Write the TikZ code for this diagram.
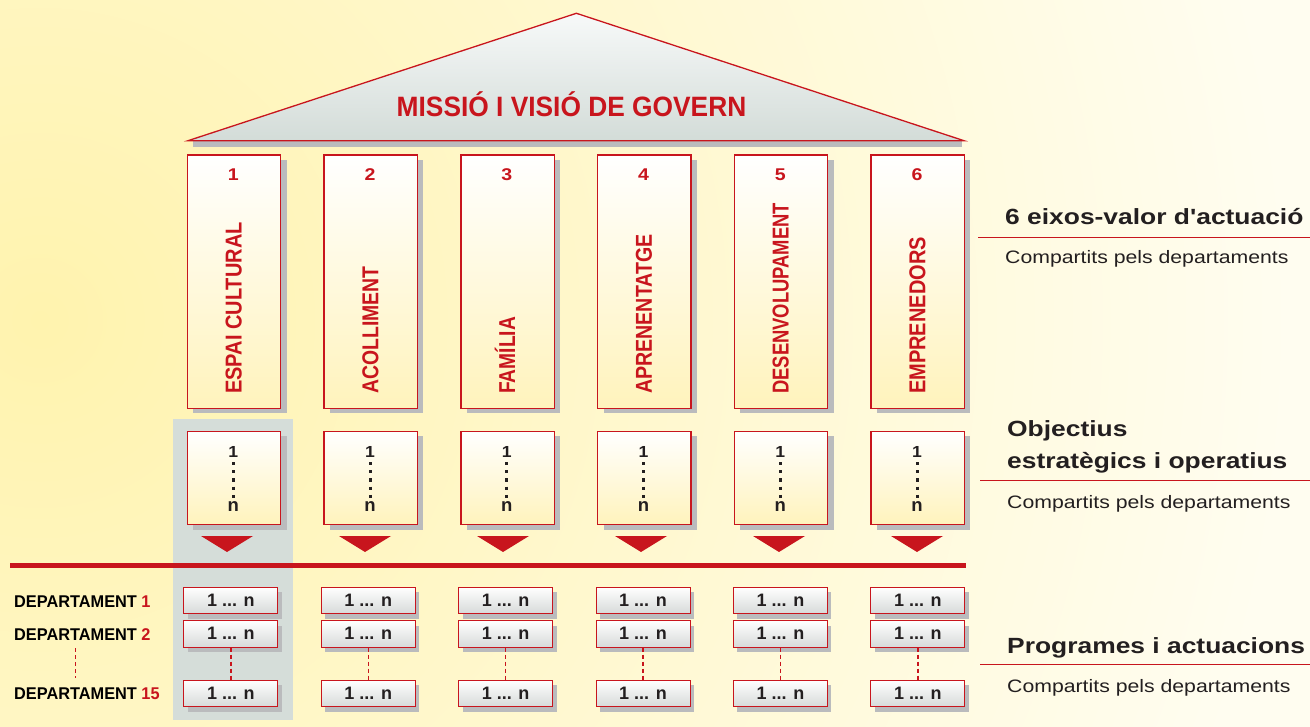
\documentclass[tikz,border=0pt]{standalone}
\usepackage{fontspec}
\setmainfont{Liberation Sans}
\usepackage{graphicx}
\usetikzlibrary{shadows}
\definecolor{rd}{HTML}{C8151D}
\definecolor{bgcream}{HTML}{FFFDF0}
\definecolor{bgyel}{HTML}{FFF3AE}
\definecolor{pilbot}{HTML}{FFF3BC}
\definecolor{shd}{HTML}{BABBBD}
\definecolor{hl}{HTML}{D5DDD9}
\definecolor{rooftop}{HTML}{F7F9F9}
\definecolor{roofbot}{HTML}{D3DCD8}
\definecolor{dbot}{HTML}{D7DAD9}
\definecolor{txt}{HTML}{231F20}
\newcommand{\fs}[1]{\fontsize{#1}{#1}\selectfont}
\newcommand{\hs}[2]{\scalebox{#1}[1]{#2}}
\tikzset{
  pillar/.style={draw=rd, line width=1.4pt, top color=white, bottom color=pilbot,
    minimum width=93.3pt, minimum height=253.3pt, inner sep=0pt, anchor=north west,
    drop shadow={shadow xshift=6pt, shadow yshift=-5pt, fill=shd, opacity=1}},
  objbox/.style={draw=rd, line width=1.4pt, top color=white, bottom color=pilbot,
    minimum width=93.3pt, minimum height=93.3pt, inner sep=0pt, anchor=north west,
    drop shadow={shadow xshift=6pt, shadow yshift=-5pt, fill=shd, opacity=1}},
  depbox/.style={draw=rd, line width=1.1pt, top color=white, bottom color=dbot,
    minimum width=94pt, minimum height=26.5pt, inner sep=0pt, anchor=north west,
    font=\fs{18}\bfseries, text=txt,
    drop shadow={shadow xshift=4pt, shadow yshift=-5pt, fill=shd, opacity=1}},
  numst/.style={font=\fs{17}\bfseries, text=rd, anchor=base, inner sep=0pt},
  vlab/.style={font=\fs{20}\bfseries, text=rd, rotate=90, anchor=base west, inner sep=0pt},
  onum/.style={font=\fs{16}\bfseries, text=txt, anchor=base, inner sep=0pt},
  onumn/.style={font=\fs{18.5}\bfseries, text=txt, anchor=base, inner sep=0pt},
  deplab/.style={font=\fs{17}\bfseries, text=black, anchor=base west, inner sep=0pt},
  rhead/.style={font=\fs{22}\bfseries, text=txt, anchor=base west, inner sep=0pt},
  rsub/.style={font=\fs{18}, text=txt, anchor=base west, inner sep=0pt},
  rline/.style={draw=rd, line width=1pt},
  reddash/.style={draw=rd, line width=1.5pt, dash pattern=on 4pt off 3pt},
}
\begin{document}
\begin{tikzpicture}[x=1pt,y=-1pt]
\useasboundingbox (0,0) rectangle (1310,727);
% background
\fill[bgcream] (0,0) rectangle (1310,727);
\begin{scope}
  \clip (0,0) rectangle (1310,727);
  \shade[inner color=bgyel, outer color=bgcream] (40,320) circle (1250pt);
\end{scope}
% highlight column
\fill[hl] (173,419) rectangle (293,720);
% roof
\fill[shd] (193,141) -- (962,141) -- (962,147) -- (193,147) -- cycle;
\draw[rd, line width=1.3pt, top color=rooftop, bottom color=roofbot, line join=miter]
  (188,140.7) -- (576.4,13.3) -- (964,140.7) -- cycle;
\node[font=\fs{28}\bfseries, text=rd, anchor=base, inner sep=0pt] (title) at (571.5,117)
  {\hs{0.94}{MISSIÓ I VISIÓ DE GOVERN}};
% pillars and objectives
\foreach \i/\lab/\sq in {1/ESPAI CULTURAL/1, 2/ACOLLIMENT/0.97, 3/FAMÍLIA/0.96,
  4/APRENENTATGE/0.98, 5/DESENVOLUPAMENT/0.92, 6/EMPRENEDORS/1}{
  \pgfmathsetmacro\xl{186.7+136.75*(\i-1)}
  \pgfmathsetmacro\xc{\xl+46.65}
  \pgfmathsetmacro\xt{227+138*(\i-1)}
  \node[pillar] (p\i) at (\xl,154.5) {};
  \node[numst] (n\i) at (\xc,181) {\hs{1.15}{\i}};
  \node[vlab] (l\i) at (\xc+8.2,394) {\scalebox{\sq}[1.15]{\lab}};
  \node[objbox] (o\i) at (\xl,430.7) {};
  \node[onum] (oa\i) at (\xc,457.7) {\hs{1.1}{1}};
  \node[onumn] (ob\i) at (\xc,511) {n};
  \draw[txt, line width=3.2pt, dash pattern=on 3.2pt off 5pt] (\xc,462) -- (\xc,499);
  \fill[rd] (\xt-26,536) -- (\xt+26,536) -- (\xt,552) -- cycle;
}
% red rule
\coordinate (rl) at (10,565.8);
\coordinate (rr) at (966,565.8);
\draw[rd, line width=5pt] (rl) -- (rr);
% department boxes
\foreach \i in {1,...,6}{
  \pgfmathsetmacro\dx{183.3+137.4*(\i-1)}
  \node[depbox] (da\i) at (\dx,586.5) {1 ... n};
  \node[depbox] (db\i) at (\dx,620) {1 ... n};
  \node[depbox] (dc\i) at (\dx,679.5) {1 ... n};
  \draw[reddash] (db\i.south) -- (dc\i.north);
}
% department labels
\node[deplab] (dl1) at (14,607.3) {\hs{0.96}{DEPARTAMENT \textcolor{rd}{1}}};
\node[deplab] (dl2) at (14,640.7) {\hs{0.96}{DEPARTAMENT \textcolor{rd}{2}}};
\node[deplab] (dl3) at (14,699.3) {\hs{0.96}{DEPARTAMENT \textcolor{rd}{15}}};
\coordinate (dt) at (75.3,648);
\coordinate (db) at (75.3,678);
\draw[reddash] (dt) -- (db);
% right side texts
\node[rhead] (h1) at (1005,225) {\hs{1.2}{6 eixos-valor d\textquotesingle actuació}};
\draw[rline] (978,237.3) -- (1310,237.3);
\node[rsub] (s1) at (1005,263.3) {\hs{1.18}{Compartits pels departaments}};
\node[rhead] (h2a) at (1007,436.5) {\hs{1.2}{Objectius}};
\node[rhead] (h2b) at (1007,468) {\hs{1.2}{estratègics i operatius}};
\draw[rline] (980,480.7) -- (1310,480.7);
\node[rsub] (s2) at (1007,508) {\hs{1.18}{Compartits pels departaments}};
\node[rhead] (h3) at (1007,653) {\hs{1.2}{Programes i actuacions}};
\draw[rline] (980,664) -- (1310,664);
\node[rsub] (s3) at (1007,692) {\hs{1.18}{Compartits pels departaments}};
\end{tikzpicture}
\end{document}
